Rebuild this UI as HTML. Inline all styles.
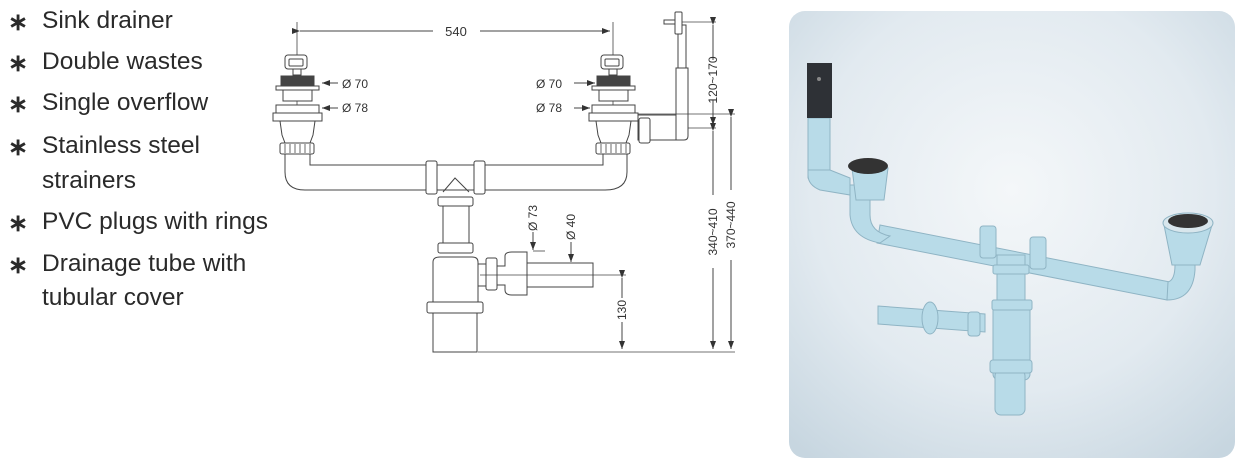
<!DOCTYPE html>
<html><head><meta charset="utf-8"><style>
body{margin:0;width:1243px;height:473px;background:#fff;overflow:hidden;position:relative;font-family:"Liberation Sans",sans-serif}
.t{position:absolute;left:42px;font-size:24.5px;color:#2a2a2a;line-height:24px;white-space:nowrap}
.s{position:absolute;left:8px;font-size:24px;color:#2a2a2a;line-height:22px;font-weight:bold}
</style></head><body>
<div class="s" style="top:12px">∗</div><div class="t" style="top:9px">Sink drainer</div>
<div class="s" style="top:53px">∗</div><div class="t" style="top:50px">Double wastes</div>
<div class="s" style="top:94px">∗</div><div class="t" style="top:91px">Single overflow</div>
<div class="s" style="top:137px">∗</div><div class="t" style="top:134px">Stainless steel</div>
<div class="t" style="top:169px">strainers</div>
<div class="s" style="top:213px">∗</div><div class="t" style="top:210px">PVC plugs with rings</div>
<div class="s" style="top:255px">∗</div><div class="t" style="top:252px">Drainage tube with</div>
<div class="t" style="top:286px">tubular cover</div>

<svg width="1243" height="473" style="position:absolute;left:0;top:0" font-family="Liberation Sans, sans-serif">
<defs>
<radialGradient id="bg" cx="0.5" cy="0.4" r="0.75">
<stop offset="0" stop-color="#f4f7f9"/><stop offset="0.6" stop-color="#e2eaf0"/><stop offset="1" stop-color="#c7d6e0"/>
</radialGradient>
<marker id="a" markerWidth="8" markerHeight="6" refX="8" refY="3" orient="auto" markerUnits="userSpaceOnUse"><path d="M0,0L8,3L0,6z" fill="#333"/></marker>
</defs>
<g stroke="#444" stroke-width="1" fill="#fff">
<line x1="297" y1="22" x2="297" y2="150" stroke-width="0.8"/>
<line x1="613" y1="22" x2="613" y2="150" stroke-width="0.8"/>
<line x1="300" y1="31" x2="433" y2="31" marker-start="url(#a)"/>
<line x1="480" y1="31" x2="610" y2="31" marker-end="url(#a)"/>
<g id="dr">
<rect x="285" y="55" width="22" height="14" rx="3"/><rect x="289" y="59" width="14" height="7" rx="1"/>
<rect x="293" y="69" width="8" height="6"/>
<rect x="281" y="76" width="33" height="9" fill="#444"/>
<rect x="276" y="86" width="43" height="4"/>
<rect x="283" y="90" width="29" height="11"/>
<rect x="276" y="105" width="43" height="8"/>
<rect x="273" y="113" width="49" height="8"/>
<path d="M280,121 L315,121 L313,135 L310,143 L285,143 L282,135 Z"/>
<rect x="280" y="143" width="34" height="11" rx="2"/>
<g stroke-width="0.8"><line x1="285" y1="144" x2="285" y2="153"/><line x1="290" y1="144" x2="290" y2="153"/><line x1="295" y1="144" x2="295" y2="153"/><line x1="300" y1="144" x2="300" y2="153"/><line x1="305" y1="144" x2="305" y2="153"/><line x1="310" y1="144" x2="310" y2="153"/></g>
</g>
<use href="#dr" transform="translate(316,0)"/>
<path d="M285,154 L285,172 Q285,190 305,190 L426,190 M437,190 L474,190 M485,190 L605,190 Q627,190 627,172 L627,154" fill="none"/>
<path d="M310,154 L310,165 L426,165 M437,165 L474,165 M485,165 L603,165 L603,154" fill="none"/>
<rect x="426" y="161" width="11" height="33" rx="2"/><rect x="474" y="161" width="11" height="33" rx="2"/>
<path d="M443,192 L455,178 L469,192" fill="none"/>
<rect x="438" y="197" width="35" height="9" rx="2"/>
<rect x="443" y="206" width="26" height="37"/>
<rect x="438" y="243" width="35" height="10" rx="2"/>
<path d="M433,302 L433,262 Q433,257 440,257 L472,257 Q478,257 478,262 L478,302"/>
<rect x="427" y="302" width="56" height="11" rx="2"/>
<rect x="433" y="313" width="44" height="39"/>
<rect x="478" y="264" width="10" height="22"/>
<rect x="486" y="258" width="11" height="32" rx="2"/>
<path d="M497,266 L505,266 L505,256 Q505,252 512,252 L527,252 L527,295 L512,295 Q505,295 505,290 L505,285 L497,285 Z"/>
<rect x="527" y="263" width="66" height="24"/>
<line x1="480" y1="275" x2="626" y2="275" stroke-width="0.8"/>
<rect x="638" y="115" width="42" height="25"/>
<rect x="639" y="118" width="11" height="25" rx="2"/>
<path d="M676,68 L688,68 L688,136 Q688,140 684,140 L676,140 Z"/>
<rect x="678" y="25" width="8" height="43"/>
<rect x="675" y="12" width="7" height="22" rx="1"/>
<rect x="664" y="20" width="11" height="4"/>
<line x1="682" y1="22" x2="716" y2="22" stroke-width="0.8"/>
<line x1="638" y1="114" x2="735" y2="114" stroke-width="0.8"/>
<line x1="688" y1="128" x2="716" y2="128" stroke-width="0.8"/>
<line x1="478" y1="352" x2="735" y2="352" stroke-width="0.8"/>
<line x1="713" y1="25" x2="713" y2="60" marker-start="url(#a)"/>
<line x1="713" y1="100" x2="713" y2="125" marker-end="url(#a)"/>
<line x1="713" y1="131" x2="713" y2="195" marker-start="url(#a)"/>
<line x1="713" y1="268" x2="713" y2="349" marker-end="url(#a)"/>
<line x1="731" y1="117" x2="731" y2="190" marker-start="url(#a)"/>
<line x1="731" y1="260" x2="731" y2="349" marker-end="url(#a)"/>
<line x1="622" y1="278" x2="622" y2="298" marker-start="url(#a)"/>
<line x1="622" y1="322" x2="622" y2="349" marker-end="url(#a)"/>
<line x1="338" y1="83" x2="322" y2="83" marker-end="url(#a)"/>
<line x1="338" y1="108" x2="322" y2="108" marker-end="url(#a)"/>
<line x1="574" y1="83" x2="595" y2="83" marker-end="url(#a)"/>
<line x1="574" y1="108" x2="590" y2="108" marker-end="url(#a)"/>
<line x1="533" y1="232" x2="533" y2="250" marker-end="url(#a)"/>
<line x1="533" y1="251" x2="545" y2="251" stroke-width="0.8"/>
<line x1="571" y1="242" x2="571" y2="262" marker-end="url(#a)"/>
</g>
<g fill="#333" font-size="12">
<text x="456" y="36" text-anchor="middle" font-size="13">540</text>
<text x="342" y="88">Ø 70</text><text x="342" y="112">Ø 78</text>
<text x="536" y="88">Ø 70</text><text x="536" y="112">Ø 78</text>
<text transform="translate(537,218) rotate(-90)" text-anchor="middle">Ø 73</text>
<text transform="translate(575,227) rotate(-90)" text-anchor="middle">Ø 40</text>
<text transform="translate(626,310) rotate(-90)" text-anchor="middle">130</text>
<text transform="translate(717,80) rotate(-90)" text-anchor="middle">120~170</text>
<text transform="translate(717,232) rotate(-90)" text-anchor="middle">340~410</text>
<text transform="translate(735,225) rotate(-90)" text-anchor="middle">370~440</text>
</g>
<rect x="789" y="11" width="446" height="447" rx="16" fill="url(#bg)"/>
<g stroke="#8fb4c4" stroke-width="1" fill="#b8dbe8">
<path d="M880,225 L1170,282 L1167,300 L877,243 Z"/>
<path d="M850,185 L870,185 L870,215 Q870,232 890,236 L880,243 Q852,238 850,215 Z"/>
<path d="M1170,230 L1195,230 L1195,270 Q1193,300 1167,300 L1168,282 Q1175,280 1175,265 Z"/>
<rect x="808" y="118" width="22" height="60"/>
<path d="M808,170 L830,170 L850,178 L850,195 L820,190 Q808,185 808,175Z"/>
<rect x="997" y="255" width="28" height="48"/>
<rect x="993" y="300" width="37" height="80" rx="6"/>
<rect x="995" y="370" width="30" height="45" rx="6"/>
<rect x="990" y="360" width="42" height="13" rx="3"/>
<path d="M878,306 L985,314 L985,332 L878,324 Z"/>
<ellipse cx="930" cy="318" rx="8" ry="16"/>
<rect x="968" y="312" width="12" height="24" rx="3"/>
<rect x="993" y="265" width="36" height="9" rx="2"/>
<rect x="992" y="300" width="40" height="10" rx="2"/>
<rect x="980" y="226" width="16" height="32" rx="3"/>
<rect x="1030" y="237" width="16" height="32" rx="3"/>
<path d="M852,168 L888,168 L884,200 L856,200 Z"/>
<path d="M1164,225 L1212,225 L1200,265 L1172,265 Z"/>
</g>
<ellipse cx="868" cy="166" rx="20" ry="8" fill="#333"/>
<ellipse cx="1188" cy="223" rx="25" ry="10" fill="#d8e6ec" stroke="#8fb4c4"/>
<ellipse cx="1188" cy="221" rx="20" ry="7" fill="#333"/>
<rect x="807" y="63" width="25" height="55" fill="#2e3136"/>
<circle cx="819" cy="79" r="2" fill="#888"/>
</svg>
</body></html>
